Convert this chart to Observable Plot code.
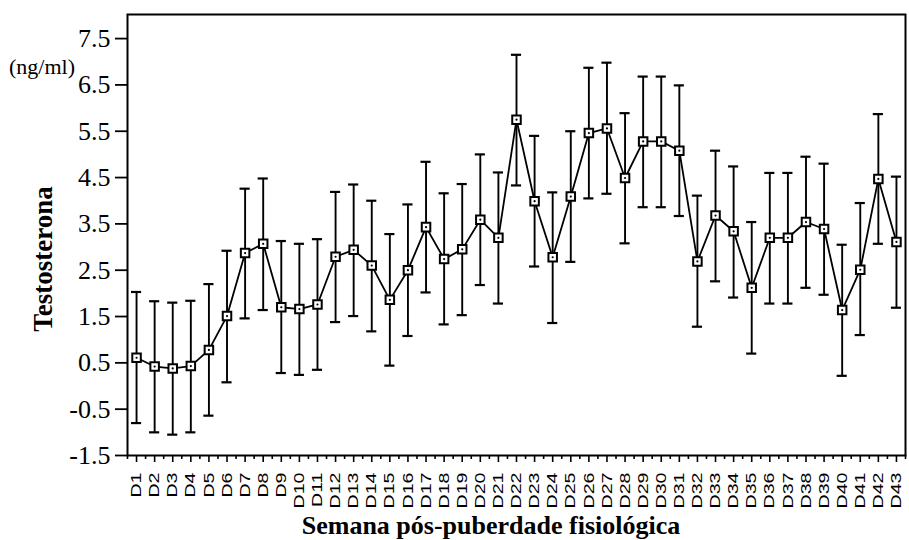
<!DOCTYPE html>
<html><head><meta charset="utf-8">
<script src="https://cdn.jsdelivr.net/npm/d3@7"></script>
<script src="https://cdn.jsdelivr.net/npm/@observablehq/plot@0.6"></script>
<style>
body{margin:0;background:#fff}
#chart svg{display:block}
</style>
</head><body><div id="chart"></div>
<script>
const categories = ["D1","D2","D3","D4","D5","D6","D7","D8","D9","D10","D11","D12","D13","D14","D15","D16","D17","D18","D19","D20","D21","D22","D23","D24","D25","D26","D27","D28","D29","D30","D31","D32","D33","D34","D35","D36","D37","D38","D39","D40","D41","D42","D43"];
const means = [0.61,0.42,0.38,0.43,0.78,1.51,2.87,3.07,1.70,1.66,1.76,2.79,2.94,2.60,1.86,2.50,3.43,2.74,2.95,3.59,3.20,5.75,3.99,2.78,4.09,5.46,5.56,4.49,5.28,5.28,5.08,2.69,3.68,3.34,2.12,3.20,3.20,3.54,3.39,1.64,2.51,4.47,3.11];
const upper = [2.03,1.83,1.80,1.84,2.20,2.92,4.26,4.48,3.13,3.07,3.17,4.19,4.35,4.00,3.28,3.92,4.84,4.16,4.36,5.00,4.61,7.15,5.40,4.18,5.50,6.87,6.98,5.89,6.68,6.68,6.49,4.11,5.08,4.74,3.54,4.60,4.60,4.95,4.80,3.05,3.95,5.87,4.52];
const lower = [-0.80,-1.00,-1.05,-1.00,-0.64,0.08,1.46,1.64,0.28,0.24,0.35,1.38,1.51,1.18,0.44,1.08,2.02,1.33,1.53,2.18,1.78,4.33,2.58,1.36,2.68,4.05,4.15,3.08,3.86,3.86,3.67,1.28,2.26,1.91,0.70,1.78,1.78,2.12,1.97,0.22,1.10,3.07,1.69];
const yTicks = [-1.5,-0.5,0.5,1.5,2.5,3.5,4.5,5.5,6.5,7.5];
const yTitle = "Testosterona";
const yUnit = "(ng/ml)";
const xTitle = "Semana pós-puberdade fisiológica";

const data = categories.map((c, i) => ({idx: i + 1, cat: c, mean: means[i], lo: lower[i], hi: upper[i]}));
const majorTicks = data.map(d => d.idx);
const minorTicks = [0].concat(majorTicks).map(i => i + 0.5);
const capHalf = 0.28;
const serif = "'Liberation Serif', 'Times New Roman', serif";

const chart = Plot.plot({
  width: 909,
  height: 540,
  marginTop: 14,
  marginBottom: 85,
  marginLeft: 127,
  marginRight: 4,
  style: {fontFamily: serif, color: "#000", background: "#fff"},
  x: {type: "linear", domain: [0.5, 43.5]},
  y: {domain: [-1.5, 8.02]},
  marks: [
    Plot.axisY({ticks: yTicks, tickFormat: d => d.toFixed(1), tickSize: 12, tickPadding: 5, strokeWidth: 1.8, label: null}),
    Plot.axisX({ticks: majorTicks, tickFormat: i => categories[i - 1], tickSize: 7, tickPadding: 10, tickRotate: -90, strokeWidth: 1.6, label: null}),
    Plot.axisX({ticks: minorTicks, tickFormat: () => "", tickSize: 4, strokeWidth: 1.6, label: null}),
    Plot.frame({strokeWidth: 2}),
    Plot.ruleX(data, {x: "idx", y1: "lo", y2: "hi", strokeWidth: 1.9}),
    Plot.ruleY(data, {y: "hi", x1: d => d.idx - capHalf, x2: d => d.idx + capHalf, strokeWidth: 2.2}),
    Plot.ruleY(data, {y: "lo", x1: d => d.idx - capHalf, x2: d => d.idx + capHalf, strokeWidth: 2.2}),
    Plot.line(data, {x: "idx", y: "mean", strokeWidth: 1.8}),
    Plot.dot(data, {x: "idx", y: "mean", symbol: "square", r: 4.8, fill: "white", stroke: "black", strokeWidth: 2}),
    Plot.dot(data, {x: "idx", y: "mean", r: 1.1, fill: "black", stroke: "none"})
  ]
});

document.getElementById("chart").append(chart);

const svg = d3.select(chart);
svg.selectAll('g[aria-label="x-axis tick label"]').attr("font-size", 14.5).attr("font-family", "'Liberation Sans', Arial, sans-serif");
svg.selectAll('g[aria-label="x-axis tick label"] text').each(function() {
  const t = d3.select(this);
  t.attr("font-family", "'Liberation Sans', Arial, sans-serif").attr("font-size", 14.5);
  const tr = t.attr("transform");
  if (tr && tr.includes("rotate")) t.attr("transform", tr + " scale(1.35,1)");
});
svg.selectAll('g[aria-label="y-axis tick label"]').attr("font-size", 26).style("font-size", "26px");
svg.selectAll('g[aria-label="y-axis tick label"] text').attr("font-size", 26).style("font-size", "26px");

svg.append("text")
  .attr("x", 9).attr("y", 74)
  .attr("text-anchor", "start")
  .attr("font-family", serif).attr("font-size", 22)
  .attr("fill", "#000")
  .text(yUnit);

svg.append("text")
  .attr("transform", "translate(52,259) rotate(-90)")
  .attr("text-anchor", "middle")
  .attr("font-family", serif).attr("font-size", 27).attr("font-weight", "bold")
  .attr("fill", "#000")
  .text(yTitle);

svg.append("text")
  .attr("x", 491).attr("y", 534)
  .attr("text-anchor", "middle")
  .attr("font-family", serif).attr("font-size", 26).attr("font-weight", "bold")
  .attr("fill", "#000")
  .text(xTitle);
</script>
</body></html>
